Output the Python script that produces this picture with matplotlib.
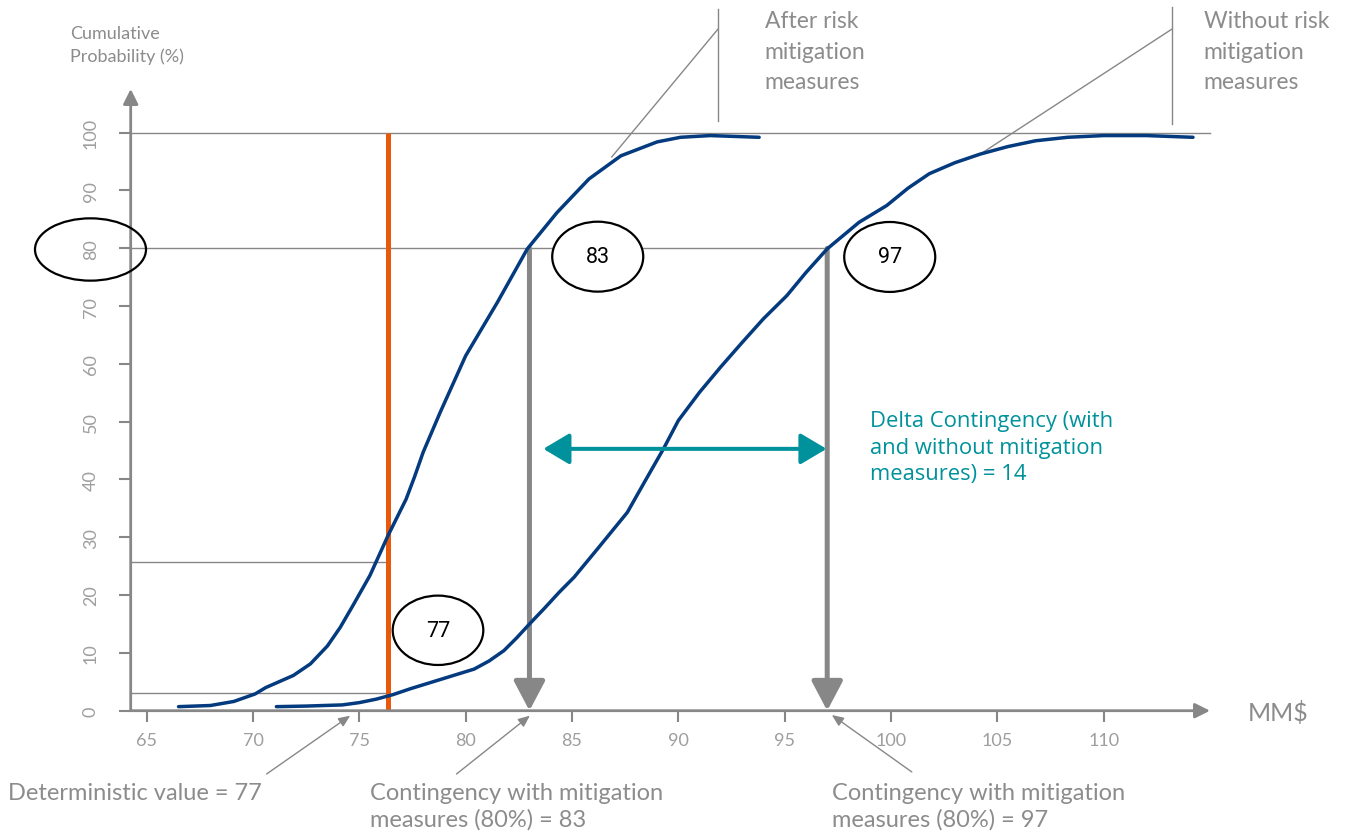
import matplotlib
matplotlib.use("Agg")
import matplotlib.pyplot as plt
from matplotlib.patches import Ellipse
from matplotlib import font_manager as fm

# ---------------- data ----------------
after_x = [66.5, 68.0, 69.1, 70.1, 70.6, 71.9, 72.7, 73.5, 74.1, 74.7, 75.5, 76.35, 77.2, 77.6,
           78.0, 78.8, 80.0, 81.5, 82.9, 84.3, 85.8, 87.3, 89.0, 90.1, 91.5, 93.8]
after_y = [0.7, 0.9, 1.6, 2.9, 4.0, 6.1, 8.1, 11.2, 14.4, 18.2, 23.4, 30.3, 36.6, 40.5,
           44.7, 51.6, 61.4, 70.7, 79.9, 86.2, 92.0, 96.0, 98.4, 99.2, 99.5, 99.2]

without_x = [71.1, 72.5, 74.2, 75.0, 75.8, 76.6, 77.4, 78.9, 80.4, 81.1, 81.8, 82.4, 83.0, 83.7,
             84.4, 85.1, 86.2, 87.6, 88.4, 89.3, 90.0, 91.0, 92.0, 93.0, 94.0, 95.1, 96.0,
             97.0, 98.5, 99.8, 100.8, 101.8, 103.0, 104.2, 105.5, 106.8, 108.3, 110.0, 112.0,
             114.2]
without_y = [0.7, 0.8, 1.0, 1.4, 2.0, 2.8, 3.8, 5.5, 7.2, 8.6, 10.4, 12.6, 15.0, 17.7,
             20.5, 23.1, 28.0, 34.3, 39.5, 45.3, 50.2, 55.1, 59.5, 63.7, 67.8, 71.8, 75.8,
             79.9, 84.5, 87.4, 90.4, 92.9, 94.8, 96.3, 97.6, 98.6, 99.2, 99.5, 99.5,
             99.2]

x_ticks = [65, 70, 75, 80, 85, 90, 95, 100, 105, 110]
y_ticks = [0, 10, 20, 30, 40, 50, 60, 70, 80, 90, 100]

deterministic_x = 76.35
p80_level = 80
p80_after = 83.0
p80_without = 97.0
delta_level = 45.3
guide_levels = [25.7, 3.1]

circle_labels = ["83", "97", "77"]

# ---------------- style ----------------
GRAY = "#878787"
TXTGRAY = "#8C8C8C"
TICKGRAY = "#9E9E9E"
NAVY = "#043A7E"
ORANGE = "#E8590C"
TEAL = "#00929C"

names = {f.name for f in fm.fontManager.ttflist}
LFONT = ["Lato", "DejaVu Sans"] if "Lato" in names else ["Liberation Sans", "DejaVu Sans"]
LWEIGHT = "normal"

fig = plt.figure(figsize=(13.5, 8.37), dpi=100)
ax = fig.add_axes([0.09681, 0.1497, 0.7995, 0.7428])
ax.set_xlim(64.25, 115.0)
ax.set_ylim(0, 107.56)
for s in ax.spines.values():
    s.set_visible(False)

# axes with arrows
ax.annotate("", xy=(1, 0), xytext=(0, 0), xycoords="axes fraction", textcoords="axes fraction",
            arrowprops=dict(arrowstyle="-|>,head_length=0.9,head_width=0.45", lw=2.0, color=GRAY,
                            shrinkA=0, shrinkB=0, mutation_scale=10), zorder=3)
ax.annotate("", xy=(0, 1), xytext=(0, 0), xycoords="axes fraction", textcoords="axes fraction",
            arrowprops=dict(arrowstyle="-|>,head_length=0.9,head_width=0.45", lw=2.0, color=GRAY,
                            shrinkA=0, shrinkB=0, mutation_scale=10), zorder=3)

ax.set_xticks(x_ticks)
ax.set_yticks(y_ticks)
ax.set_xticklabels([str(v) for v in x_ticks])
ax.set_yticklabels([str(v) for v in y_ticks], rotation=90, va="center")
ax.tick_params(axis="x", direction="out", length=8, width=1.5, color=GRAY, pad=7,
               labelsize=13, labelcolor=TICKGRAY)
ax.tick_params(axis="y", direction="out", length=9, width=1.5, color=GRAY, pad=14,
               labelsize=13, labelcolor=TICKGRAY)
for lab in ax.get_xticklabels() + ax.get_yticklabels():
    lab.set_family(LFONT)
    lab.set_weight(LWEIGHT)

# thin guide lines
ax.plot([64.25, 115.0], [100, 100], color=GRAY, lw=1.0, zorder=1, clip_on=False)
ax.plot([64.25, p80_without], [p80_level, p80_level], color=GRAY, lw=1.0, zorder=1)
for lv in guide_levels:
    ax.plot([64.25, deterministic_x], [lv, lv], color=GRAY, lw=1.0, zorder=1)

# deterministic line
ax.plot([deterministic_x, deterministic_x], [0, 100], color=ORANGE, lw=3.6, zorder=2,
        solid_capstyle="butt")

# curves
ax.plot(after_x, after_y, color=NAVY, lw=2.5, zorder=4, solid_capstyle="round",
        solid_joinstyle="round")
ax.plot(without_x, without_y, color=NAVY, lw=2.5, zorder=4, solid_capstyle="round",
        solid_joinstyle="round")

# gray thick down arrows
for xv in (p80_after, p80_without):
    ax.annotate("", xy=(xv, 0), xytext=(xv, p80_level),
                arrowprops=dict(arrowstyle="-|>,head_length=1.8,head_width=0.95", lw=3.6,
                                color=GRAY, shrinkA=0, shrinkB=0, mutation_scale=10),
                zorder=3)

# teal double arrow
ax.annotate("", xy=(96.97, delta_level), xytext=(83.65, delta_level),
            arrowprops=dict(arrowstyle="<|-|>,head_length=1.6,head_width=0.95", lw=2.9,
                            color=TEAL, shrinkA=0, shrinkB=0, mutation_scale=10), zorder=5)

# ellipses
ell_specs = [((86.21, 78.55), 4.28, 12.1, circle_labels[0]),
             ((99.94, 78.5), 4.28, 12.1, circle_labels[1]),
             ((78.70, 13.91), 4.26, 12.0, circle_labels[2])]
for (cx, cy), w, h, lab in ell_specs:
    ax.add_patch(Ellipse((cx, cy), w, h, facecolor="white", edgecolor="black", lw=1.6, zorder=6))
    ax.text(cx, cy, lab, ha="center", va="center", fontsize=15.5, color="black",
            family=["Roboto", "DejaVu Sans"], zorder=7)
ax.add_patch(Ellipse((62.36, 79.79), 5.22, 10.78, facecolor="none", edgecolor="black",
                     lw=1.6, zorder=6, clip_on=False))

# leader lines top
ax.plot([91.86, 91.86], [121.4, 102.0], color=GRAY, lw=1.0, clip_on=False)
ax.plot([91.86, 86.87], [117.9, 95.8], color=GRAY, lw=1.0, clip_on=False)
ax.plot([113.2, 113.2], [121.7, 101.5], color=GRAY, lw=1.0, clip_on=False)
ax.plot([113.2, 104.2], [117.9, 96.3], color=GRAY, lw=1.0, clip_on=False)

tkw = dict(color=TXTGRAY, family=LFONT, weight=LWEIGHT, clip_on=False)
ax.text(94.06, 114.1, "After risk\nmitigation\nmeasures", ha="left", va="center",
        fontsize=16.5, linespacing=1.55, **tkw)
ax.text(114.7, 114.1, "Without risk\nmitigation\nmeasures", ha="left", va="center",
        fontsize=16.5, linespacing=1.55, **tkw)

# bottom annotations
akw = dict(arrowstyle="-|>,head_length=0.7,head_width=0.3", lw=1.0, color=GRAY,
           shrinkA=0, shrinkB=0, mutation_scale=10)
ax.annotate("", xy=(74.57, -0.86), xytext=(70.64, -10.95), arrowprops=akw, annotation_clip=False)
ax.annotate("", xy=(83.02, -0.86), xytext=(79.57, -10.95), arrowprops=akw, annotation_clip=False)
ax.annotate("", xy=(97.22, -0.75), xytext=(100.98, -10.6), arrowprops=akw, annotation_clip=False)

ax.text(58.48, -14.07, "Deterministic value = 77", ha="left", va="center", fontsize=17, **tkw)
ax.text(75.50, -16.49, "Contingency with mitigation\nmeasures (80%) = 83", ha="left",
        va="center", fontsize=17, linespacing=1.3, **tkw)
ax.text(97.22, -16.49, "Contingency with mitigation\nmeasures (80%) = 97", ha="left",
        va="center", fontsize=17, linespacing=1.3, **tkw)
ax.text(116.77, -0.2, "MM$", ha="left", va="center", fontsize=18, **tkw)

ax.text(61.39, 115.3, "Cumulative\nProbability (%)", ha="left", va="center",
        fontsize=13, linespacing=1.45, **tkw)

ax.text(99.0, 45.6, "Delta Contingency (with\nand without mitigation\nmeasures) = 14",
        ha="left", va="center", color=TEAL, fontsize=15.8, family=["Open Sans", "DejaVu Sans"],
        linespacing=1.35, clip_on=False)

fig.savefig("out.png", dpi=100)
